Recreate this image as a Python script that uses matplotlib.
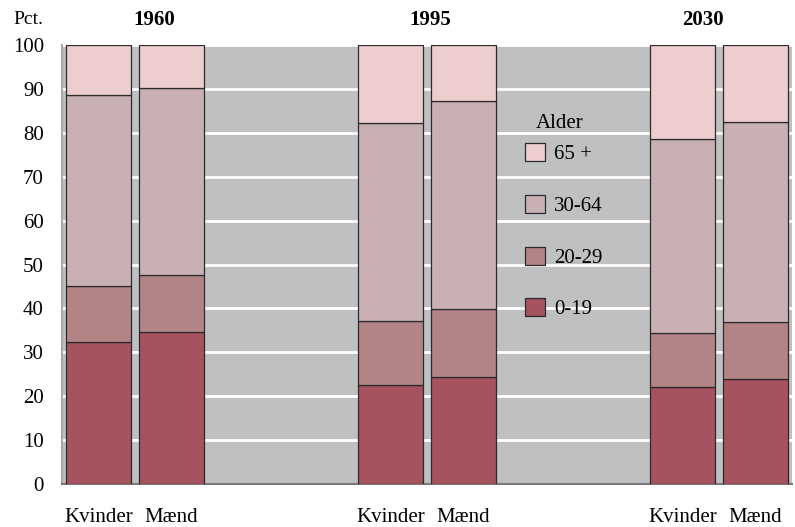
import matplotlib
matplotlib.use("Agg")
import matplotlib.pyplot as plt
from matplotlib.patches import Patch
import numpy as np

years = ["1960", "1995", "2030"]
sexes = ["Kvinder", "Mænd"]
age_groups = ["0-19", "20-29", "30-64", "65 +"]
# order of bars: 1960 K, 1960 M, 1995 K, 1995 M, 2030 K, 2030 M
v_0_19 = [32.4, 34.6, 22.6, 24.4, 22.2, 23.9]
v_20_29 = [12.6, 12.9, 14.5, 15.5, 12.1, 13.0]
v_30_64 = [43.5, 42.6, 45.1, 47.3, 44.2, 45.6]
v_65p = [11.5, 9.9, 17.8, 12.8, 21.5, 17.5]

colors = ["#a6535f", "#b28486", "#c9b0b4", "#eecdcf"]

plt.rcParams['font.family'] = ['Liberation Serif', 'DejaVu Serif']
fs = 15

fig = plt.figure(figsize=(7.95, 5.27), dpi=100)
ax = fig.add_axes([62/795, 43/527, 730/795, 439/527])
ax.set_facecolor("#bfc0c2")

x = np.array([0, 1, 4, 5, 8, 9])
series = [v_0_19, v_20_29, v_30_64, v_65p]
bottom = np.zeros(len(x))
for vals, c in zip(series, colors):
    ax.bar(x, vals, width=0.9, bottom=bottom, color=c, edgecolor="#2a2a2a",
           linewidth=0.9, zorder=3)
    bottom += np.array(vals)

ax.set_xlim(-0.5, 9.5)
ax.set_ylim(0, 100)
ax.set_yticks(range(0, 101, 10))
ax.yaxis.grid(True, color="white", linewidth=2.0, zorder=1)
ax.set_axisbelow(True)
ax.set_xticks(x)
ax.set_xticklabels(sexes * 3, fontsize=fs)
ax.tick_params(axis='x', length=0, pad=17.5)
ax.tick_params(axis='y', length=0, pad=13, labelsize=fs)

for s in ["top", "right"]:
    ax.spines[s].set_visible(False)
ax.spines["left"].set_color("#a8a8a8")
ax.spines["left"].set_linewidth(1.5)
ax.spines["bottom"].set_color("#7a7a7a")
ax.spines["bottom"].set_linewidth(1.5)

# Year titles
year_x = [0.77, 4.54, 8.28]
for yx, yr in zip(year_x, years):
    ax.text(yx, 1.056, yr, transform=ax.get_xaxis_transform(), ha="center",
            va="center", fontsize=fs, fontweight="bold")
fig.text(28/795, 1 - 20/527, "Pct.", ha="center", va="center", fontsize=fs - 1)

# Legend
ax.text((560 - 62)/730, (484 - 123)/439, "Alder", transform=ax.transAxes,
        ha="center", va="center", fontsize=fs)
handles = [Patch(facecolor=c, edgecolor="#2a2a2a", linewidth=0.9) for c in colors]
leg = ax.legend(handles[::-1], age_groups[::-1], frameon=False,
                fontsize=fs, loc="upper left",
                bbox_to_anchor=((525 - 62)/730, (484 - 143)/439),
                handlelength=0.95, handleheight=0.95, labelspacing=1.47,
                handletextpad=0.45, borderaxespad=0, borderpad=0)

fig.savefig("out.png", dpi=100)
